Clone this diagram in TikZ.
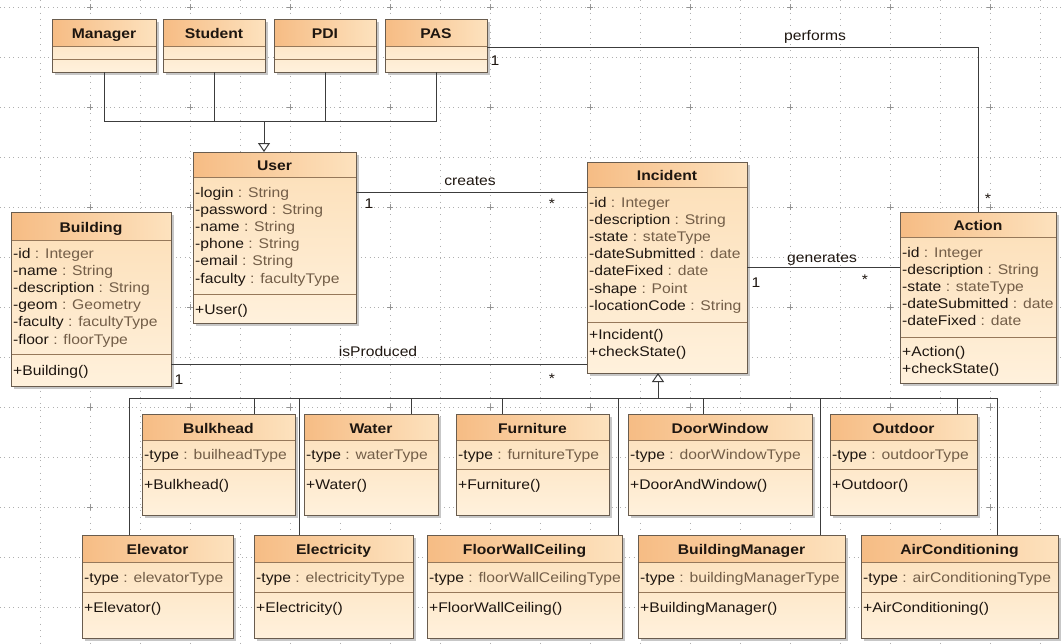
\documentclass[tikz,border=0pt]{standalone}
\usepackage{fontspec}
\setmainfont{Liberation Sans}[FakeStretch=1.12]
\usetikzlibrary{arrows.meta,calc}

\definecolor{hdrL}{RGB}{246,188,132}
\definecolor{hdrR}{RGB}{253,226,190}
\definecolor{bodyT}{RGB}{252,222,182}
\definecolor{bodyB}{RGB}{255,241,220}
\definecolor{edgec}{RGB}{105,92,78}
\definecolor{sepc}{RGB}{150,120,90}
\definecolor{ink}{RGB}{30,22,16}
\definecolor{typeink}{RGB}{115,94,72}
\definecolor{gridc}{RGB}{175,175,175}
\definecolor{linec}{RGB}{60,60,60}

% type part of an attribute, printed lighter
\newcommand{\ty}[1]{\textcolor{typeink}{#1}}

% class box: name, left, top, right, bottom, first separator, second separator, title
\newcommand{\umlclass}[8]{%
  \fill[boxshadow] (#2+3,#3+3) rectangle (#4+3,#5+3);
  \node[classbox, minimum width={#4-#2}, minimum height={#5-#3}, anchor=north west] (#1) at (#2,#3) {};
  \shade[hdrshade] (#2,#3) rectangle (#4,#6);
  \draw[sepline] (#2,#6) -- (#4,#6) (#2,#7) -- (#4,#7);
  \node[titletext] (#1-title) at ({(#2+#4)/2},{(#3+#6)/2+1}) {#8};
  \draw[boxedge] (#1.north west) rectangle (#1.south east);
}

% member lines: node prefix, x, centre of first line, list
\newcommand{\members}[4]{%
  \foreach \mline [count=\mi] in {#4} {
    \node[membertext] (#1\mi) at (#2, {#3+(\mi-1)*17.2}) {\mline};
  }
}

% leaf class of a row: name, left, right, title, attribute, operation
\newcommand{\leaf}[6]{%
  \umlclass{#1}{#2}{\rowTop}{#3}{\rowBot}{\rowSa}{\rowSb}{#4}
  \node[membertext] (#1-a1) at (#2+2, {(\rowSa+\rowSb)/2}) {#5};
  \node[membertext] (#1-o1) at (#2+2, {\rowSb+15}) {#6};
}

\begin{document}
\begin{tikzpicture}[x=1pt,y=-1pt,
  font=\fontsize{14}{17}\selectfont,
  boxshadow/.style={fill=black!22},
  classbox/.style={inner sep=0pt, outer sep=0pt, top color=bodyT, bottom color=bodyB},
  hdrshade/.style={left color=hdrL, right color=hdrR},
  sepline/.style={draw=sepc, line width=0.9pt},
  boxedge/.style={draw=edgec, line width=1pt},
  titletext/.style={inner sep=0pt, text height=10pt, text depth=0pt, font=\fontsize{14}{17}\selectfont\bfseries, text=ink},
  membertext/.style={inner sep=0pt, anchor=west, text height=10pt, text depth=0pt, text=ink},
  lbl/.style={inner sep=0pt, text height=10pt, text depth=0pt, text=ink},
  conn/.style={draw=linec, line width=1pt},
  gen/.style={conn, -{Triangle[open, length=9pt, width=12pt, line width=1pt]}},
  gridh/.style={draw=gridc, line width=0.6pt, dash pattern=on 0.8pt off 3.6pt},
  gridv/.style={draw=gridc, line width=0.6pt, dash pattern=on 0.8pt off 5.5pt},
  gridx/.style={draw=gridc!85!black, line width=0.6pt}]

% canvas and dotted grid
\fill[white] (0,0) rectangle (1063,643);
\useasboundingbox (0,0) rectangle (1063,643);
\foreach \gx in {40,90,...,1040} \draw[gridv] (\gx,0) -- (\gx,643);
\foreach \gy in {7,57,...,607} \draw[gridh] (0,\gy) -- (1063,\gy);
\foreach \gx in {90,190,...,990}
  \foreach \gy in {7,107,...,607}
    \draw[gridx] (\gx-3,\gy) -- (\gx+3,\gy) (\gx,\gy-3) -- (\gx,\gy+3);

% actors
\umlclass{Manager}{52}{19}{156}{72}{46}{59}{Manager}
\umlclass{Student}{163}{19}{265}{72}{46}{59}{Student}
\umlclass{PDI}{274}{19}{376}{72}{46}{59}{PDI}
\umlclass{PAS}{385}{19}{487}{72}{46}{59}{PAS}

% User
\umlclass{User}{193}{152}{356}{323}{177}{294}{User}
\members{User-a}{195}{192}{-login \ty{: String}, -password \ty{: String}, -name \ty{: String}, -phone \ty{: String}, -email \ty{: String}, -faculty \ty{: facultyType}}
\members{User-o}{195}{309}{+User()}

% Building
\umlclass{Building}{11}{212}{171}{386}{240}{354}{Building}
\members{Building-a}{13}{253}{-id \ty{: Integer}, -name \ty{: String}, -description \ty{: String}, -geom \ty{: Geometry}, -faculty \ty{: facultyType}, -floor \ty{: floorType}}
\members{Building-o}{13}{370}{+Building()}

% Incident
\umlclass{Incident}{587}{162}{747}{373}{187}{322}{Incident}
\members{Incident-a}{589}{202}{-id \ty{: Integer}, -description \ty{: String}, -state \ty{: stateType}, -dateSubmitted \ty{: date}, -dateFixed \ty{: date}, -shape \ty{: Point}, -locationCode \ty{: String}}
\members{Incident-o}{589}{334}{+Incident(), +checkState()}

% Action
\umlclass{Action}{900}{212}{1056}{383}{237}{337}{Action}
\members{Action-a}{902}{252}{-id \ty{: Integer}, -description \ty{: String}, -state \ty{: stateType}, -dateSubmitted \ty{: date}, -dateFixed \ty{: date}}
\members{Action-o}{902}{351}{+Action(), +checkState()}

% incident kinds, upper row
\def\rowTop{414}\def\rowSa{440}\def\rowSb{469}\def\rowBot{515}
\leaf{Bulkhead}{142}{295}{Bulkhead}{-type \ty{: builheadType}}{+Bulkhead()}
\leaf{Water}{304}{438}{Water}{-type \ty{: waterType}}{+Water()}
\leaf{Furniture}{456}{609}{Furniture}{-type \ty{: furnitureType}}{+Furniture()}
\leaf{DoorWindow}{628}{812}{DoorWindow}{-type \ty{: doorWindowType}}{+DoorAndWindow()}
\leaf{Outdoor}{830}{977}{Outdoor}{-type \ty{: outdoorType}}{+Outdoor()}

% incident kinds, lower row
\def\rowTop{535}\def\rowSa{562}\def\rowSb{592}\def\rowBot{638}
\leaf{Elevator}{82}{233}{Elevator}{-type \ty{: elevatorType}}{+Elevator()}
\leaf{Electricity}{254}{413}{Electricity}{-type \ty{: electricityType}}{+Electricity()}
\leaf{FloorWallCeiling}{427}{622}{FloorWallCeiling}{-type \ty{: floorWallCeilingType}}{+FloorWallCeiling()}
\leaf{BuildingManager}{638}{845}{BuildingManager}{-type \ty{: buildingManagerType}}{+BuildingManager()}
\leaf{AirConditioning}{861}{1058}{AirConditioning}{-type \ty{: airConditioningType}}{+AirConditioning()}

% generalisation of the actors into User
\coordinate (ubus) at (264,121);
\draw[conn] (Manager.south) |- (ubus);
\draw[conn] (Student.south) |- (ubus);
\draw[conn] (PDI.south) |- (ubus);
\draw[conn] (PAS.south) |- (ubus);
\draw[gen] (ubus) -- (ubus |- User.north);

% generalisation of the incident kinds into Incident
\coordinate (ibus) at (658,398);
\coordinate (kElevator) at (129,398);
\coordinate (kBulkhead) at (254,398);
\coordinate (kElectricity) at (299,398);
\coordinate (kWater) at (411,398);
\coordinate (kFurniture) at (502,398);
\coordinate (kFloorWallCeiling) at (618,398);
\coordinate (kDoorWindow) at (703,398);
\coordinate (kBuildingManager) at (820,398);
\coordinate (kOutdoor) at (957,398);
\coordinate (kAirConditioning) at (997,398);
\draw[conn] (kElevator) -- (kAirConditioning);
\foreach \k in {Elevator,Bulkhead,Electricity,Water,Furniture,FloorWallCeiling,DoorWindow,BuildingManager,Outdoor,AirConditioning}
  \draw[conn] (k\k) -- (k\k |- \k.north);
\draw[gen] (ibus) -- (ibus |- Incident.south);

% associations
\draw[conn] ([yshift=-40pt]User.north east) -- ([yshift=-30pt]Incident.north west);
\draw[conn] ([yshift=-152pt]Building.north east) -- ([yshift=-202pt]Incident.north west);
\draw[conn] ([yshift=-105pt]Incident.north east) -- ([yshift=-55pt]Action.north west);
\draw[conn] ([yshift=-28pt]PAS.north east) -| (Action.north);

% association names and multiplicities
\node[lbl] (performsName) at (815,35) {performs};
\node[lbl] (performsA) at (495,60) {1};
\node[lbl] (performsB) at (988,198) {*};
\node[lbl] (createsName) at (470,180) {creates};
\node[lbl] (createsA) at (369,203) {1};
\node[lbl] (createsB) at (552,203) {*};
\node[lbl] (producedName) at (378,351) {isProduced};
\node[lbl] (producedA) at (179,379) {1};
\node[lbl] (producedB) at (552,378) {*};
\node[lbl] (generatesName) at (822,257) {generates};
\node[lbl] (generatesA) at (756,282) {1};
\node[lbl] (generatesB) at (865,279) {*};

\end{tikzpicture}
\end{document}
